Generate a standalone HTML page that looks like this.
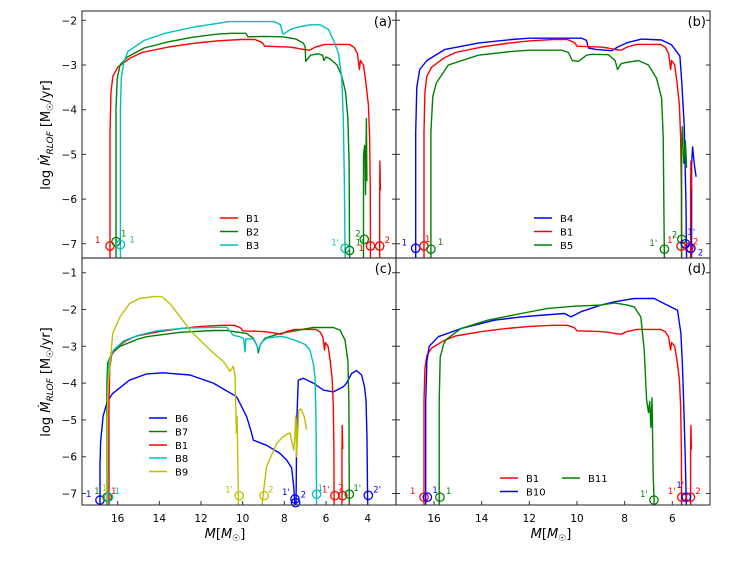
<!DOCTYPE html>
<html><head><meta charset="utf-8"><style>
html,body{margin:0;padding:0;background:#fff;}
svg{display:block;font-family:"DejaVu Sans","Liberation Sans",sans-serif;}
</style></head><body>
<svg id="chart" width="747" height="561" viewBox="0 0 747 561" xmlns="http://www.w3.org/2000/svg">
<defs>
<clipPath id="ca"><rect x="82" y="11" width="314" height="247"/></clipPath>
<clipPath id="cb"><rect x="396" y="11" width="314" height="247"/></clipPath>
<clipPath id="cc"><rect x="82" y="258" width="314" height="247"/></clipPath>
<clipPath id="cd"><rect x="396" y="258" width="314" height="247"/></clipPath>
</defs>
<g id="layer"></g>
<text transform="translate(50,135) rotate(-90)" text-anchor="middle" font-size="13">log <tspan font-style="italic">Ṁ</tspan><tspan font-size="9" dy="3" font-style="italic">RLOF</tspan><tspan dy="-3"> [M</tspan><tspan font-size="9" dy="3">☉</tspan><tspan dy="-3">/yr]</tspan></text>
<text transform="translate(50,382) rotate(-90)" text-anchor="middle" font-size="13">log <tspan font-style="italic">Ṁ</tspan><tspan font-size="9" dy="3" font-style="italic">RLOF</tspan><tspan dy="-3"> [M</tspan><tspan font-size="9" dy="3">☉</tspan><tspan dy="-3">/yr]</tspan></text>
<text x="225" y="538" text-anchor="middle" font-size="13"><tspan font-style="italic">M</tspan>[<tspan font-style="italic">M</tspan><tspan font-size="9" dy="3">☉</tspan><tspan dy="-3">]</tspan></text>
<text x="551" y="538" text-anchor="middle" font-size="13"><tspan font-style="italic">M</tspan>[<tspan font-style="italic">M</tspan><tspan font-size="9" dy="3">☉</tspan><tspan dy="-3">]</tspan></text>
</svg>
<script>
// ---- data ----
const B1 = [[16.42,-7.4],[16.42,-4.5],[16.38,-3.6],[16.3,-3.25],[16.1,-3.05],[15.6,-2.85],[15.1,-2.72],[14,-2.6],[13,-2.52],[12,-2.46],[11,-2.43],[10.4,-2.43],[10.1,-2.5],[10.0,-2.58],[9,-2.6],[8.7,-2.62],[8.4,-2.65],[8.15,-2.67],[7.9,-2.6],[7.5,-2.54],[6.5,-2.54],[6.3,-2.6],[6.15,-2.75],[6.07,-3.1],[6.03,-2.9],[5.9,-3.0],[5.8,-3.4],[5.7,-3.9],[5.65,-4.6],[5.62,-5.8],[5.61,-7.4]];
const B1spike = [[5.23,-7.4],[5.23,-5.9],[5.22,-5.15],[5.2,-5.8]];
const B2 = [[16.17,-7.4],[16.17,-4],[16.12,-3.3],[16.0,-3.0],[15.7,-2.82],[15,-2.62],[14,-2.48],[13,-2.38],[12,-2.31],[11.4,-2.29],[10.78,-2.29],[10.7,-2.37],[10,-2.36],[9.24,-2.37],[8.7,-2.42],[8.4,-2.51],[8.32,-2.6],[8.3,-2.92],[8.1,-2.78],[7.8,-2.75],[7.6,-2.78],[7.55,-2.9],[7.45,-2.82],[7.3,-2.86],[7.0,-3.0],[6.8,-3.25],[6.65,-3.6],[6.55,-4.2],[6.5,-5.2],[6.48,-7.4]];
const B2spike = [[5.9,-7.4],[5.9,-5.0],[5.85,-4.8],[5.82,-5.9],[5.78,-4.2],[5.76,-5.6]];
const B3 = [[15.99,-7.4],[15.99,-4],[15.95,-3.3],[15.85,-2.95],[15.68,-2.7],[15,-2.45],[14.14,-2.29],[12.93,-2.15],[11.96,-2.07],[11.5,-2.03],[9.6,-2.03],[9.35,-2.1],[9.24,-2.31],[8.9,-2.2],[8.6,-2.15],[8.12,-2.1],[7.71,-2.1],[7.36,-2.2],[7.15,-2.44],[6.94,-2.74],[6.8,-3.3],[6.74,-4.2],[6.7,-5.5],[6.66,-7.4]];
const B4 = [[16.77,-7.4],[16.77,-4.5],[16.72,-3.5],[16.6,-3.1],[16.3,-2.9],[15.54,-2.65],[14.14,-2.51],[12.74,-2.43],[12,-2.4],[9.8,-2.4],[9.6,-2.45],[9.52,-2.62],[9.2,-2.65],[8.54,-2.68],[8.3,-2.6],[7.9,-2.5],[7.29,-2.42],[6.45,-2.44],[6.03,-2.55],[5.68,-2.8],[5.6,-3.4],[5.5,-4.35],[5.43,-6],[5.4,-7.4]];
const B4spike = [[5.19,-7.4],[5.19,-5.2],[5.15,-4.83],[5.08,-5.2],[5.0,-5.5]];
const B5 = [[16.13,-7.4],[16.13,-4.5],[16.05,-3.7],[15.9,-3.4],[15.4,-3.0],[14.14,-2.78],[12.8,-2.7],[12,-2.67],[10.64,-2.67],[10.36,-2.72],[10.2,-2.9],[9.94,-2.92],[9.6,-2.78],[9.38,-2.76],[8.68,-2.77],[8.4,-2.9],[8.3,-3.1],[8.15,-2.97],[8.0,-2.95],[7.43,-2.9],[7.0,-3.0],[6.66,-3.3],[6.45,-3.74],[6.38,-4.6],[6.33,-7.4]];
const B5spike = [[5.61,-7.4],[5.61,-4.8],[5.58,-4.38],[5.52,-5.2],[5.45,-4.7],[5.4,-5.3]];
const B6a = [[16.85,-7.4],[16.85,-6.2],[16.82,-5.6],[16.7,-4.9],[16.5,-4.5],[16.24,-4.28],[15.44,-3.92],[14.61,-3.75],[13.81,-3.72],[12.53,-3.78],[11.41,-4.0],[10.29,-4.37],[9.81,-4.91],[9.6,-5.3],[9.49,-5.55],[8.85,-5.69],[8.21,-5.91],[7.89,-6.09],[7.65,-6.3],[7.55,-6.8],[7.49,-7.4]];
const B6b = [[7.44,-7.4],[7.4,-5.0],[7.33,-3.92],[7.09,-3.87],[6.61,-4.0],[6.13,-4.19],[5.65,-4.24],[5.17,-4.1],[5.01,-4.0],[4.77,-3.74],[4.53,-3.66],[4.29,-3.78],[4.15,-4.1],[4.08,-4.46],[4.03,-5.5],[4.0,-7.4]];
const B7 = [[16.52,-7.4],[16.52,-4],[16.48,-3.45],[16.3,-3.2],[15.89,-3.0],[15,-2.8],[14.61,-2.74],[13,-2.62],[11.4,-2.57],[10.77,-2.57],[9.81,-2.65],[9.49,-2.78],[9.3,-3.0],[9.25,-3.18],[9.15,-2.95],[8.93,-2.78],[8.21,-2.65],[7.41,-2.57],[6.61,-2.49],[5.65,-2.49],[5.33,-2.56],[5.09,-2.83],[4.95,-3.4],[4.9,-4.5],[4.88,-7.4]];
const B8 = [[16.48,-7.4],[16.48,-4],[16.42,-3.4],[16.2,-3.1],[15.7,-2.85],[15,-2.7],[14.13,-2.58],[13,-2.52],[12.53,-2.5],[10.77,-2.48],[10.6,-2.6],[10.45,-2.7],[10.13,-2.74],[9.95,-2.8],[9.89,-3.15],[9.85,-2.8],[9.49,-2.8],[9.3,-3.0],[9.25,-3.1],[9.1,-2.9],[8.85,-2.78],[8.21,-2.73],[7.89,-2.76],[7.41,-2.85],[7.0,-2.95],[6.77,-3.1],[6.6,-3.5],[6.53,-3.83],[6.48,-5],[6.45,-7.4]];
const B9a = [[16.52,-7.4],[16.5,-5],[16.45,-4],[16.24,-2.65],[15.89,-2.2],[15.44,-1.84],[14.96,-1.7],[14.29,-1.65],[13.89,-1.65],[13.49,-1.84],[13.0,-2.2],[12.53,-2.56],[11.89,-2.92],[11.41,-3.18],[10.93,-3.41],[10.61,-3.68],[10.45,-3.54],[10.37,-3.8],[10.3,-5.36],[10.27,-4.9],[10.2,-7.4]];
const B9b = [[9.09,-7.4],[8.95,-6.7],[8.85,-6.27],[8.37,-5.64],[8.05,-5.45],[7.73,-5.35],[7.6,-5.7],[7.55,-5.82],[7.5,-5.5],[7.46,-4.9],[7.43,-5.0],[7.41,-6.0],[7.35,-5.2],[7.3,-4.73],[7.2,-4.7],[7.04,-4.91],[6.93,-5.27]];
const B10 = [[16.35,-7.4],[16.35,-4.5],[16.3,-3.4],[16.2,-3.0],[15.82,-2.74],[14.87,-2.52],[13.47,-2.29],[12.35,-2.2],[11.37,-2.15],[10.53,-2.11],[10.25,-2.2],[9.83,-2.06],[8.99,-1.88],[8.43,-1.79],[7.6,-1.7],[6.76,-1.7],[6.34,-1.84],[5.78,-2.02],[5.64,-2.65],[5.57,-3.56],[5.5,-5],[5.45,-6.2],[5.41,-7.4]];
const B11 = [[15.78,-7.4],[15.78,-4.5],[15.74,-3.3],[15.6,-2.95],[15.5,-2.82],[14.87,-2.52],[13.75,-2.29],[12.35,-2.11],[11.23,-1.97],[10.11,-1.91],[8.99,-1.88],[8.43,-1.82],[7.88,-1.88],[7.6,-1.93],[7.32,-2.2],[7.18,-3.09],[7.08,-4.46],[7.0,-4.8],[6.95,-4.5],[6.9,-5.2],[6.85,-4.4],[6.8,-6.5],[6.75,-7.4]];

// markers: [mass, logMdot, label, colour]
const markersA = [[16.42,-7.05,'1','red'],[16.17,-6.95,'1','green'],[15.99,-7.02,'1','c'],[6.66,-7.1,"1'",'c'],[6.48,-7.15,"1'",'green'],[5.87,-6.9,'2','green'],[5.61,-7.05,'1','red'],[5.23,-7.05,'2','red']];
const markersB = [[16.77,-7.1,'1','blue'],[16.42,-7.05,'1','red'],[16.13,-7.12,'1','green'],[6.33,-7.12,"1'",'green'],[5.63,-7.05,"1'",'red'],[5.6,-6.9,'2','green'],[5.45,-7.0,"1'",'blue'],[5.3,-7.08,'2','red'],[5.22,-7.1,'2','blue']];
const markersC = [[16.85,-7.18,'1','blue'],[16.52,-7.1,'1','y'],[16.5,-7.1,'1','green'],[16.46,-7.1,'1','red'],[16.44,-7.1,'1','c'],[10.17,-7.06,"1'",'y'],[8.97,-7.06,'2','y'],[7.49,-7.15,"1'",'blue'],[7.46,-7.25,'2','blue'],[6.45,-7.02,"1'",'c'],[5.57,-7.06,"1'",'red'],[5.2,-7.06,'2','red'],[4.88,-7.02,"1'",'green'],[3.97,-7.05,"2'",'blue']];
const markersD = [[16.42,-7.1,'1','red'],[16.28,-7.1,'1','blue'],[15.75,-7.1,'1','green'],[6.77,-7.18,"1'",'green'],[5.6,-7.1,"1'",'red'],[5.41,-7.1,"1'",'blue'],[5.24,-7.1,'2','red']];

const ticksTop = [-2,-3,-4,-5,-6,-7];
const ticksBottom = [-1,-2,-3,-4,-5,-6,-7];
const xTicksC = [16,14,12,10,8,6,4];
const xTicksD = [16,14,12,10,8,6];

// ---- styling / label offsets (pixels) ----
const COL = {red:'#ff0000', green:'#008000', c:'#00bfbf', blue:'#0000ff', y:'#bfbf00'};
const offA = [[-15,-6],[5,-8],[9,-5],[-14,-6],[6,-8],[-9,-6],[-12,2],[5,-6]];
const offB = [[-14,-6],[1,-7],[7,-7],[-15,-6],[-14,-6],[-10,-5],[2,-12],[4,-6],[7,4]];
const offC = [[-14,-6],[-5,-9],[-13,-6],[3,-6],[6,-6],[-14,-6],[4,-6],[-13,-7],[5,-8],[1,-6],[-13,-6],[-4,-8],[4,-6],[5,-6]];
const offD = [[-14,-6],[5,-7],[6,-6],[-14,-6],[-14,-6],[-10,-12],[5,-6]];

const NS = 'http://www.w3.org/2000/svg';
const layer = document.getElementById('layer');
function el(tag, attrs, parent){ const e=document.createElementNS(NS,tag); for(const k in attrs) e.setAttribute(k,attrs[k]); (parent||layer).appendChild(e); return e; }

function xTop(m, left){ return left + 38 + (16 - m) * 23.83; }
const panels = {
  a:{left:82, top:11, clip:'ca', x:m=>110+(16.42-m)*24.1, y:v=>20.3+(-2-v)*44.7},
  b:{left:396, top:11, clip:'cb', x:m=>xTop(m,396), y:v=>20.3+(-2-v)*44.7},
  c:{left:82, top:258, clip:'cc', x:m=>117.7+(16-m)*20.83, y:v=>272.7+(-1-v)*36.8},
  d:{left:396, top:258, clip:'cd', x:m=>xTop(m,396), y:v=>272.7+(-1-v)*36.8}
};

function drawSeries(p, data, color, name){
  const P = panels[p];
  const d = data.map((pt,i)=>(i?'L':'M')+P.x(pt[0]).toFixed(1)+','+P.y(pt[1]).toFixed(1)).join('');
  const path = el('path',{d:d, fill:'none', stroke:color, 'stroke-width':1.4, 'stroke-linejoin':'round', 'clip-path':'url(#'+P.clip+')'});
  
  
}
function drawMarkers(p, list, offs){
  const P = panels[p];
  list.forEach((mk,i)=>{
    const cx = P.x(mk[0]), cy = P.y(mk[1]);
    const c = el('circle',{cx:cx, cy:cy, r:4.2, fill:'none', stroke:COL[mk[3]], 'stroke-width':1.3});
    
    
    const t = el('text',{x:cx+offs[i][0], y:cy+offs[i][1]+3, fill:COL[mk[3]], 'font-size':8.5});
    t.textContent = mk[2];
    
    
  });
}
function frame(p, label, yt, xt){
  const P = panels[p];
  const r = el('rect',{x:P.left, y:P.top, width:314, height:247, fill:'none', stroke:'#333', 'stroke-width':1.1});
  
  
  yt.forEach(v=>{
    const y = P.y(v);
    const tk = el('path',{d:'M'+P.left+','+y+'h4M'+(P.left+314)+','+y+'h-4', stroke:'#333', 'stroke-width':1});
    
    
    if(p==='a'||p==='c'){
      const t = el('text',{x:P.left-5, y:y+4, 'text-anchor':'end', 'font-size':10.5, fill:'#000'});
      t.textContent = '\u2212'+Math.abs(v);
      
      
    }
  });
  if(xt){ xt.forEach(m=>{
    const x = P.x(m);
    const tk = el('path',{d:'M'+x+',505v-4', stroke:'#333', 'stroke-width':1});
    
    
    const t = el('text',{x:x, y:522, 'text-anchor':'middle', 'font-size':10.5, fill:'#000'});
    t.textContent = m;
    
    
  }); }
  const lt = el('text',{x:P.left+310, y:P.top+15, 'text-anchor':'end', 'font-size':13, fill:'#000'});
  lt.textContent = label;
  
  
}
function legend(x, y, color, text){
  const l = el('path',{d:'M'+x+','+y+'h18', stroke:color, 'stroke-width':1.5});
  
  
  const t = el('text',{x:x+26, y:y+4, 'font-size':10, fill:'#000'});
  t.textContent = text;
  
  
}

// panel a
drawSeries('a', B1, COL.red, 'series-b1-a'); drawSeries('a', B1spike, COL.red, 'series-b1-spike-a');
drawSeries('a', B2, COL.green, 'series-b2'); drawSeries('a', B2spike, COL.green, 'series-b2-spike');
drawSeries('a', B3, COL.c, 'series-b3');
drawMarkers('a', markersA, offA);
// panel b
drawSeries('b', B4, COL.blue, 'series-b4'); drawSeries('b', B4spike, COL.blue, 'series-b4-spike');
drawSeries('b', B1, COL.red, 'series-b1-b'); drawSeries('b', B1spike, COL.red, 'series-b1-spike-b');
drawSeries('b', B5, COL.green, 'series-b5'); drawSeries('b', B5spike, COL.green, 'series-b5-spike');
drawMarkers('b', markersB, offB);
// panel c
drawSeries('c', B6a, COL.blue, 'series-b6'); drawSeries('c', B6b, COL.blue, 'series-b6-second');
drawSeries('c', B7, COL.green, 'series-b7');
drawSeries('c', B1, COL.red, 'series-b1-c'); drawSeries('c', B1spike, COL.red, 'series-b1-spike-c');
drawSeries('c', B8, COL.c, 'series-b8');
drawSeries('c', B9a, COL.y, 'series-b9'); drawSeries('c', B9b, COL.y, 'series-b9-second');
drawMarkers('c', markersC, offC);
// panel d
drawSeries('d', B1, COL.red, 'series-b1-d'); drawSeries('d', B1spike, COL.red, 'series-b1-spike-d');
drawSeries('d', B10, COL.blue, 'series-b10');
drawSeries('d', B11, COL.green, 'series-b11');
drawMarkers('d', markersD, offD);

frame('a','(a)',ticksTop,null);
frame('b','(b)',ticksTop,null);
frame('c','(c)',ticksBottom,xTicksC);
frame('d','(d)',ticksBottom,xTicksD);

legend(220,218,COL.red,'B1'); legend(220,231.5,COL.green,'B2'); legend(220,245,COL.c,'B3');
legend(534,218,COL.blue,'B4'); legend(534,231.5,COL.red,'B1'); legend(534,245,COL.green,'B5');
legend(149,418,COL.blue,'B6'); legend(149,431.5,COL.green,'B7'); legend(149,445,COL.red,'B1'); legend(149,458,COL.c,'B8'); legend(149,471.5,COL.y,'B9');
legend(500,478,COL.red,'B1'); legend(500,491.5,COL.blue,'B10'); legend(562,478,COL.green,'B11');
</script>
</body></html>
